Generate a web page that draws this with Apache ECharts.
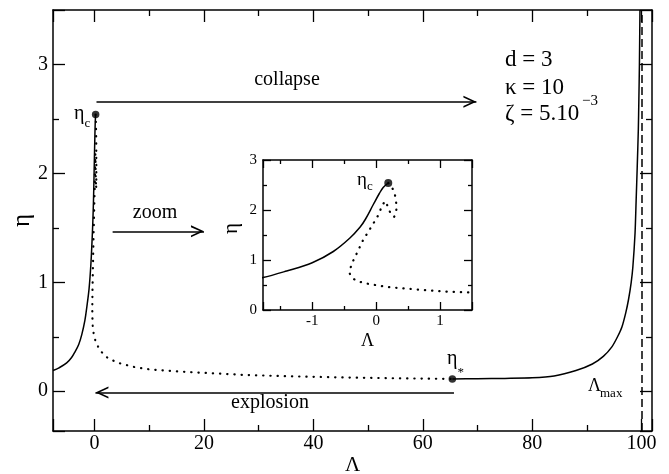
<!DOCTYPE html>
<html><head><meta charset="utf-8">
<script src="https://cdn.jsdelivr.net/npm/echarts@6/dist/echarts.min.js"></script>
<style>html,body{margin:0;padding:0;background:#fff}#c{width:669px;height:474px}</style>
</head><body><div id="c"></div>
<script>
// ---- data ----
const stableLam = [-7.6, -6.5, -5.1, -4.2, -3.6, -2.9, -2.34, -1.77, -1.4, -1.0, -0.67, -0.41, -0.25, -0.17, -0.04, 0.05, 0.11, 0.19];
const stableEta = [0.19, 0.215, 0.26, 0.31, 0.36, 0.43, 0.52, 0.65, 0.78, 0.945, 1.17, 1.44, 1.66, 1.81, 2.12, 2.33, 2.45, 2.54];
const unstableLam = [0.19, 0.25, 0.29, 0.31, 0.32, 0.31, 0.28, 0.25, 0.22, 0.18, 0.14, 0.09, 0.04, -0.02, -0.12, -0.2, -0.3, -0.38, -0.42, -0.4, -0.33, -0.2, 0.17, 0.64, 1.05, 1.5, 2.5, 4.7, 7.1, 10.1, 13.8, 17.5, 22.3, 27.2, 35, 45, 55, 65.4];
const unstableEta = [2.54, 2.45, 2.33, 2.2, 2.05, 1.93, 1.86, 1.86, 1.95, 2.08, 2.18, 2.08, 1.91, 1.78, 1.57, 1.41, 1.14, 0.93, 0.76, 0.68, 0.6, 0.54, 0.46, 0.41, 0.37, 0.35, 0.30, 0.255, 0.224, 0.2, 0.187, 0.175, 0.163, 0.15, 0.138, 0.127, 0.119, 0.113];
const upperLam = [65.4, 70, 75, 80, 84, 88, 91, 93, 94.6, 95.6, 96.4, 97.1, 97.6, 98.1, 98.4, 98.8, 99.0, 99.2, 99.4, 99.5, 99.6, 99.7];
const upperEta = [0.113, 0.115, 0.118, 0.123, 0.14, 0.19, 0.25, 0.32, 0.41, 0.5, 0.59, 0.72, 0.84, 1.0, 1.14, 1.45, 1.75, 2.06, 2.4, 2.68, 3.0, 3.5];
const etaC = [0.19, 2.54];
const etaStar = [65.4, 0.113];
const lambdaMax = 100;
const collapseArrow = [[0.35, 2.657], [69.8, 2.657]];
const zoomArrow = [[3.3, 1.468], [20.0, 1.468]];
const explosionArrow = [[65.7, -0.012], [0.16, -0.012]];
const mainXRange = [-7.6, 101.9];
const mainYRange = [-0.365, 3.5];
const insetXRange = [-1.77, 1.5];
const insetYRange = [0, 3];
const paramLines = ['d = 3', 'κ = 10', 'ζ = 5.10'];
const paramSup = '−3';

const zip = (a, b) => a.map((v, i) => [v, b[i]]);
const FONT = '"Liberation Serif", "Times New Roman", serif';
const BLK = '#000';
const arrowSym = 'path://M0,0 L26,0 L0,0 Z M13,13 L19,26 L17.2,26 L13,16.8 L8.8,26 L7,26 Z';

function mkAxis(grid, range, split, pos, showLabel, tickLen, minorLen, fontSize, margin, showEnds) {
  return {
    type: 'value', gridIndex: grid, min: range[0], max: range[1], splitNumber: split, position: pos,
    nameMoveOverlap: false,
    axisLine: { show: true, onZero: false, lineStyle: { color: BLK, width: 1.5 } },
    axisTick: { show: true, inside: true, length: tickLen, lineStyle: { color: BLK, width: 1.3 } },
    minorTick: { show: true, splitNumber: 2, length: minorLen, lineStyle: { color: BLK, width: 1.3 } },
    splitLine: { show: false }, minorSplitLine: { show: false },
    axisLabel: { show: showLabel, color: BLK, fontFamily: FONT, fontSize: fontSize, margin: margin,
      showMinLabel: showEnds, showMaxLabel: showEnds },
    nameTextStyle: { color: BLK, fontFamily: FONT }
  };
}

const xMain = mkAxis(0, mainXRange, 5, 'bottom', true, 12, 6, 20, 3, false);
xMain.name = 'Λ'; xMain.nameLocation = 'middle'; xMain.nameGap = 24;
xMain.nameTextStyle.fontSize = 21;
const xMainTop = mkAxis(0, mainXRange, 5, 'top', false, 12, 6, 20, 3, false);
const yMain = mkAxis(0, mainYRange, 5, 'left', true, 12, 6, 20, 5, false);
yMain.name = 'η'; yMain.nameLocation = 'middle'; yMain.nameRotate = 90; yMain.nameGap = 18;
yMain.nameTextStyle.fontSize = 25;
const yMainRight = mkAxis(0, mainYRange, 5, 'right', false, 12, 6, 20, 5, false);

const xIn = mkAxis(1, insetXRange, 3, 'bottom', true, 8, 4, 15, 4, false);
xIn.name = 'Λ'; xIn.nameLocation = 'middle'; xIn.nameGap = 22; xIn.nameTextStyle.fontSize = 18;
const xInTop = mkAxis(1, insetXRange, 3, 'top', false, 8, 4, 15, 4, false);
const yIn = mkAxis(1, insetYRange, 3, 'left', true, 8, 4, 15, 6, true);
yIn.name = 'η'; yIn.nameLocation = 'middle'; yIn.nameRotate = 90; yIn.nameGap = 21;
yIn.nameTextStyle.fontSize = 21; yIn.nameTextStyle.padding = [0, 0, 0, 13];
const yInRight = mkAxis(1, insetYRange, 3, 'right', false, 8, 4, 15, 6, true);

function solid(xi, data) {
  return { type: 'line', xAxisIndex: xi, yAxisIndex: xi, data: data, showSymbol: false, symbol: 'none',
    smooth: 0.35, clip: true, silent: true,
    lineStyle: { color: BLK, width: 1.5 } };
}
function dotted(xi, data) {
  return { type: 'line', xAxisIndex: xi, yAxisIndex: xi, data: data, showSymbol: false, symbol: 'none',
    smooth: false, clip: true, silent: true,
    lineStyle: { color: BLK, width: 2.2, type: [0.3, 6.9], cap: 'round' } };
}
function arrowLine(pair) {
  return [{ coord: pair[0], symbol: 'none' }, { coord: pair[1], symbol: arrowSym, symbolSize: 26 }];
}

const upper = solid(0, zip(upperLam, upperEta));
upper.smooth = 0.25;
upper.markLine = {
  silent: true, animation: false, symbol: ['none', 'none'],
  label: { show: false },
  lineStyle: { color: BLK, width: 1.5, type: 'solid' },
  data: [
    [{ coord: [lambdaMax, mainYRange[0]], lineStyle: { type: [8, 4], width: 1.5 } }, { coord: [lambdaMax, mainYRange[1]] }],
    arrowLine(collapseArrow), arrowLine(zoomArrow), arrowLine(explosionArrow)
  ]
};

const option = {
  animation: false,
  backgroundColor: '#fff',
  grid: [
    { left: 53, top: 10, right: 17, bottom: 43, containLabel: false, outerBoundsMode: 'none' },
    { left: 263, top: 160, right: 197, bottom: 164, containLabel: false, outerBoundsMode: 'none' }
  ],
  xAxis: [xMain, xMainTop, xIn, xInTop],
  yAxis: [yMain, yMainRight, yIn, yInRight],
  series: [
    solid(0, zip(stableLam, stableEta)),
    dotted(0, zip(unstableLam, unstableEta)),
    upper,
    { type: 'scatter', xAxisIndex: 0, yAxisIndex: 0, data: [etaC, etaStar], symbolSize: 7.5,
      itemStyle: { color: BLK }, silent: true },
    solid(2, zip(stableLam, stableEta)),
    dotted(2, zip(unstableLam, unstableEta)),
    { type: 'scatter', xAxisIndex: 2, yAxisIndex: 2, data: [etaC], symbolSize: 8,
      itemStyle: { color: BLK }, silent: true }
  ],
  graphic: []
};

function txt(s, x, y, size, align) {
  return { type: 'text', x: x, y: y, silent: true,
    style: { text: s, fill: BLK, font: size + 'px ' + FONT, align: align || 'left', verticalAlign: 'middle',
      textAlign: align || 'left', textVerticalAlign: 'middle' } };
}
option.graphic = [
  txt('collapse', 287, 80, 20, 'center'),
  txt('zoom', 155, 213, 20, 'center'),
  txt('explosion', 270, 403, 20, 'center'),
  txt('η', 74, 114, 20), txt('c', 84.5, 123.5, 13),
  txt('η', 357, 180.5, 19), txt('c', 367, 187, 13),
  txt('η', 447, 359, 20), txt('*', 457.5, 373, 13),
  txt('Λ', 588, 386, 18), txt('max', 600, 393.5, 13),
  txt(paramLines[0], 505, 59.5, 23),
  txt(paramLines[1], 505, 88, 23),
  txt(paramLines[2], 505, 114, 23),
  txt(paramSup, 582, 101, 15)
];

const chart = echarts.init(document.getElementById('c'), null, { renderer: 'canvas' });
chart.setOption(option);
</script></body></html>
